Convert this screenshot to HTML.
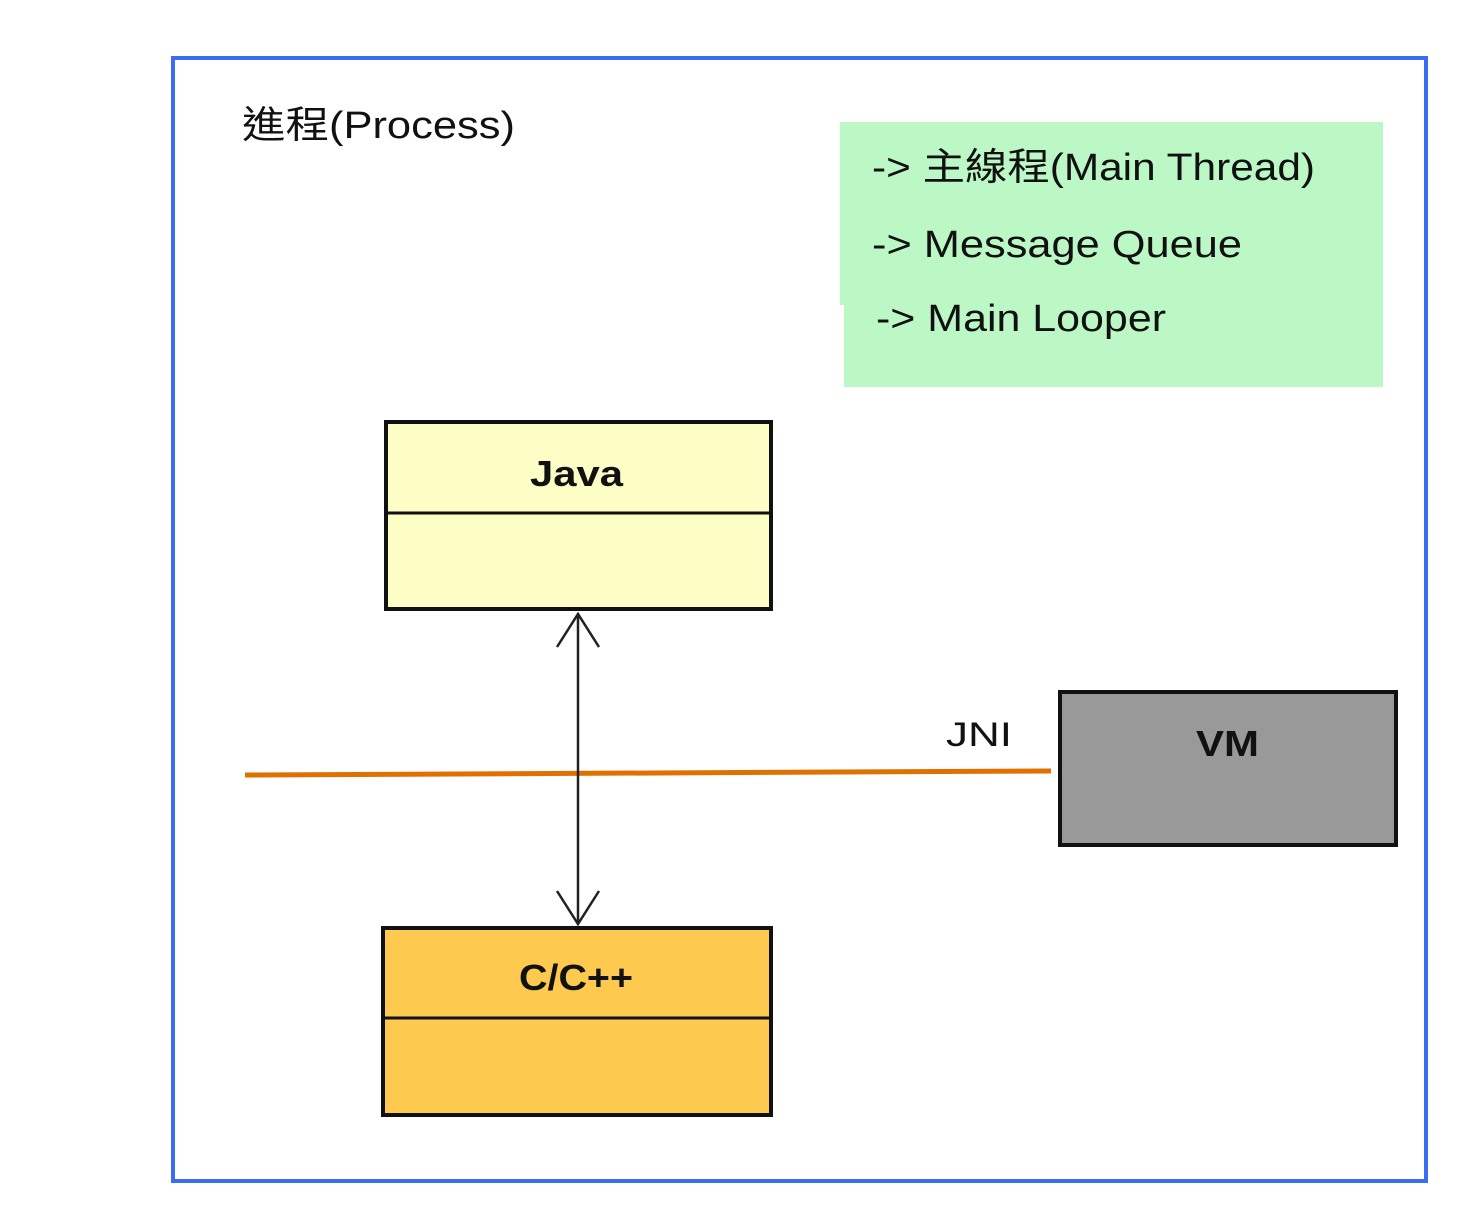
<!DOCTYPE html>
<html><head><meta charset="utf-8"><style>
html,body{margin:0;padding:0;background:#fff;width:1476px;height:1218px;overflow:hidden}
text{font-family:"Liberation Sans","Noto Sans CJK TC",sans-serif}
</style></head><body>
<svg width="1476" height="1218" xmlns="http://www.w3.org/2000/svg">
<rect x="0" y="0" width="1476" height="1218" fill="#fff"/>
<rect x="173" y="58" width="1253" height="1123" fill="none" stroke="#3a6cf4" stroke-width="4"/>
<text x="242" y="138" font-size="38" fill="#111" textLength="273" lengthAdjust="spacingAndGlyphs">進程(Process)</text>
<polygon points="840,122 1383,122 1383,387 844,387 844,305 840,305" fill="#bcf8c6"/>
<text x="872" y="180" font-size="38" fill="#111" textLength="443" lengthAdjust="spacingAndGlyphs">-&gt; 主線程(Main Thread)</text>
<text x="872" y="257" font-size="38" fill="#111" textLength="370" lengthAdjust="spacingAndGlyphs">-&gt; Message Queue</text>
<text x="876" y="331" font-size="38" fill="#111" textLength="290" lengthAdjust="spacingAndGlyphs">-&gt; Main Looper</text>
<rect x="386" y="422" width="385" height="187" fill="#fdfdc6" stroke="#111" stroke-width="4"/>
<line x1="386" y1="513" x2="771" y2="513" stroke="#111" stroke-width="3"/>
<text x="530" y="486" font-size="36" font-weight="bold" fill="#111" textLength="93" lengthAdjust="spacingAndGlyphs">Java</text>
<rect x="383" y="928" width="388" height="187" fill="#fdc94f" stroke="#111" stroke-width="4"/>
<line x1="383" y1="1018" x2="771" y2="1018" stroke="#111" stroke-width="3"/>
<text x="519" y="990" font-size="36" font-weight="bold" fill="#111" textLength="114" lengthAdjust="spacingAndGlyphs">C/C++</text>
<rect x="1060" y="692" width="336" height="153" fill="#999" stroke="#111" stroke-width="4"/>
<text x="1196" y="756" font-size="36" font-weight="bold" fill="#111" textLength="63" lengthAdjust="spacingAndGlyphs">VM</text>
<line x1="245" y1="775" x2="1051" y2="771" stroke="#e07000" stroke-width="5"/>
<text x="946" y="746" font-size="34" fill="#111" textLength="66" lengthAdjust="spacingAndGlyphs">JNI</text>
<line x1="578" y1="614" x2="578" y2="924" stroke="#222" stroke-width="2.5"/>
<polyline points="557,647 578,614 599,647" fill="none" stroke="#222" stroke-width="2.5"/>
<polyline points="557,891 578,924 599,891" fill="none" stroke="#222" stroke-width="2.5"/>
</svg>
</body></html>
